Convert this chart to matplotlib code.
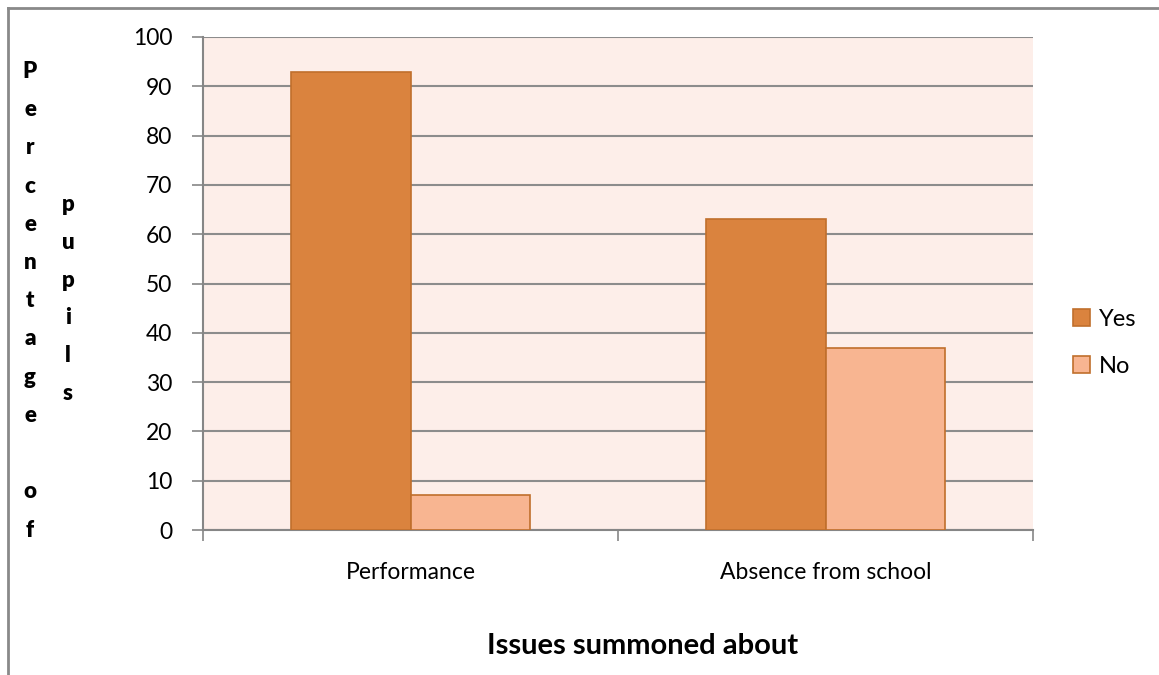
import numpy as np
import matplotlib
matplotlib.use("Agg")
import matplotlib.pyplot as plt
from matplotlib.lines import Line2D

plt.rcParams['font.family'] = ['Lato', 'DejaVu Sans']

# data
categories = ["Performance", "Absence from school"]
yes_values = [93, 63]
no_values = [7, 37]
series_names = ["Yes", "No"]
y_ticks = [0, 10, 20, 30, 40, 50, 60, 70, 80, 90, 100]

yes_color = "#DA833E"
no_color = "#F8B591"
edge_color = "#C06F2C"
grid_color = "#8C8C8C"

fig = plt.figure(figsize=(11.59, 6.75), dpi=100)
ax = fig.add_axes([0.1752, 0.2148, 0.7161, 0.7304])
ax.set_facecolor("#FDEEE9")

x = np.arange(len(categories))
w = 0.287
ax.bar(x - w / 2, yes_values, w, color=yes_color, edgecolor=edge_color,
       linewidth=1.2, label=series_names[0], zorder=3)
ax.bar(x + w / 2, no_values, w, color=no_color, edgecolor=edge_color,
       linewidth=1.2, label=series_names[1], zorder=3)

ax.set_xlim(-0.5, len(categories) - 0.5)
ax.set_ylim(0, 100)
ax.set_yticks(y_ticks)
ax.yaxis.grid(True, color=grid_color, linewidth=1.5, zorder=1)
ax.tick_params(axis="y", length=8, width=1.2, color="#868686",
               labelsize=16.5, pad=14)

# category labels centred, tick marks on the boundaries
ax.set_xticks(x)
ax.set_xticklabels(categories)
ax.tick_params(axis="x", which="major", length=0, labelsize=16.5, pad=23)
ax.set_xticks(np.arange(len(categories) + 1) - 0.5, minor=True)
ax.tick_params(axis="x", which="minor", length=8, width=1.2, color="#868686")

for side in ["top", "right"]:
    ax.spines[side].set_visible(False)
for side in ["left", "bottom"]:
    ax.spines[side].set_color("#868686")
    ax.spines[side].set_linewidth(1.5)

ax.set_xlabel("Issues summoned about", fontsize=21, fontweight="bold")
ax.xaxis.set_label_coords(0.53, -0.235)
ax.xaxis.label.set_va("center")

# odd stacked letters used as the y-axis title
trans = matplotlib.transforms.blended_transform_factory(fig.transFigure, ax.transData)
word1 = list("Percentage of")
for i, ch in enumerate(word1):
    ax.text(30 / 1159, 93 - i * 93 / 12, ch, transform=trans, fontsize=16,
            fontweight="heavy", ha="center", va="center")
word2 = list("pupils")
for i, ch in enumerate(word2):
    ax.text(68 / 1159, 66 - i * 7.65, ch, transform=trans, fontsize=16,
            fontweight="heavy", ha="center", va="center")

leg = ax.legend(loc="center left", bbox_to_anchor=(1052 / 1159, 1 - 343 / 675),
                bbox_transform=fig.transFigure, frameon=False, fontsize=17,
                handlelength=0.7, handleheight=0.7, handletextpad=0.4,
                labelspacing=1.1)

# chart border (only top and left visible in the crop)
fig.add_artist(Line2D([8 / 1159, 1], [1 - 8 / 675, 1 - 8 / 675],
                      transform=fig.transFigure, color="#898989", linewidth=2))
fig.add_artist(Line2D([8 / 1159, 8 / 1159], [0, 1 - 8 / 675],
                      transform=fig.transFigure, color="#898989", linewidth=2))

fig.savefig("out.png", dpi=100)
